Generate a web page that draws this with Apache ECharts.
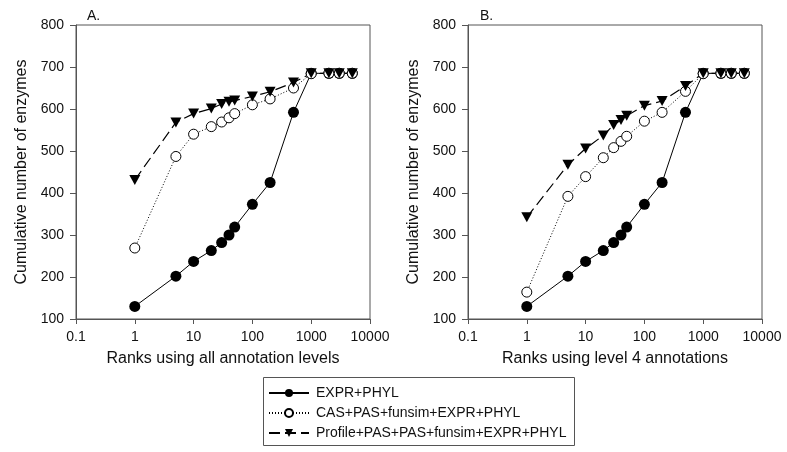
<!DOCTYPE html>
<html>
<head>
<meta charset="utf-8">
<script src="https://cdn.jsdelivr.net/npm/echarts@6/dist/echarts.min.js"></script>
<style>html,body{margin:0;padding:0;background:#fff;}#c{width:787px;height:452px;}</style>
</head>
<body>
<div id="c"></div>
<script>
const ranks = [1, 5, 10, 20, 30, 40, 50, 100, 200, 500, 1000, 2000, 3000, 5000];
const exprA = [130, 202, 237, 263, 282, 300, 319, 373, 425, 592, 685, 685, 685, 685];
const casA  = [269, 487, 540, 558, 569, 579, 589, 610, 624, 650, 684, 685, 685, 685];
const profA = [431, 568, 589, 601, 612, 617, 620, 630, 641, 663, 685, 685, 685, 685];
const exprB = [130, 202, 237, 263, 282, 300, 319, 373, 425, 592, 685, 685, 685, 685];
const casB  = [164, 392, 439, 484, 508, 523, 535, 571, 592, 642, 684, 685, 685, 685];
const profB = [342, 467, 506, 537, 562, 574, 584, 608, 619, 655, 685, 685, 685, 685];
const seriesNames = ['EXPR+PHYL', 'CAS+PAS+funsim+EXPR+PHYL', 'Profile+PAS+PAS+funsim+EXPR+PHYL'];
const panelTitles = ['A.', 'B.'];
const xNames = ['Ranks using all annotation levels', 'Ranks using level 4 annotations'];
const yName = 'Cumulative number of enzymes';

const FONT = '"Liberation Sans", Arial, sans-serif';
const AX = '#555';
const chart = echarts.init(document.getElementById('c'));
const pair = (xs, ys) => xs.map((x, i) => [x, ys[i]]);

function xAxis(i) {
  return {
    type: 'log', logBase: 10, min: 0.1, max: 10000, gridIndex: i,
    name: xNames[i], nameLocation: 'middle', nameGap: 32,
    nameTextStyle: { fontFamily: FONT, fontSize: 16, color: '#111' },
    axisLine: { lineStyle: { color: AX, width: 1 } },
    axisTick: { length: 5, lineStyle: { color: AX } },
    minorTick: { show: false },
    splitLine: { show: false },
    axisLabel: { fontFamily: FONT, fontSize: 14, color: '#111', margin: 11,
      formatter: v => String(Number(v.toPrecision(6))) }
  };
}
function yAxis(i) {
  return {
    type: 'value', min: 100, max: 800, interval: 100, gridIndex: i,
    name: yName, nameLocation: 'middle', nameGap: 46,
    nameTextStyle: { fontFamily: FONT, fontSize: 16, color: '#111' },
    axisLine: { show: true, lineStyle: { color: AX, width: 1 } },
    axisTick: { show: true, length: 6, lineStyle: { color: AX } },
    splitLine: { show: false },
    axisLabel: { fontFamily: FONT, fontSize: 14, color: '#111', margin: 12 }
  };
}
function mk(i, data) {
  return [
    { name: seriesNames[0], type: 'line', xAxisIndex: i, yAxisIndex: i, data: pair(ranks, data[0]),
      symbol: 'circle', symbolSize: 11, itemStyle: { color: '#000' },
      lineStyle: { color: '#000', width: 1 } },
    { name: seriesNames[1], type: 'line', xAxisIndex: i, yAxisIndex: i, data: pair(ranks, data[1]),
      symbol: 'circle', symbolSize: 10, itemStyle: { color: '#fff', borderColor: '#000', borderWidth: 1 },
      lineStyle: { color: '#000', width: 1, type: [1, 2] } },
    { name: seriesNames[2], type: 'line', xAxisIndex: i, yAxisIndex: i, data: pair(ranks, data[2]),
      symbol: 'triangle', symbolRotate: 180, symbolSize: [11, 10], itemStyle: { color: '#000' },
      lineStyle: { color: '#000', width: 1.2, type: [11, 5] } }
  ];
}

chart.setOption({
  animation: false,
  backgroundColor: '#fff',
  grid: [
    { left: 76, top: 25, width: 294, height: 294, show: true, borderColor: AX, borderWidth: 1, backgroundColor: 'transparent' },
    { left: 468, top: 25, width: 294, height: 294, show: true, borderColor: AX, borderWidth: 1, backgroundColor: 'transparent' }
  ],
  title: [
    { text: panelTitles[0], left: 82, top: 4, textStyle: { fontFamily: FONT, fontSize: 14, fontWeight: 'normal', color: '#111' } },
    { text: panelTitles[1], left: 475, top: 4, textStyle: { fontFamily: FONT, fontSize: 14, fontWeight: 'normal', color: '#111' } }
  ],
  xAxis: [xAxis(0), xAxis(1)],
  yAxis: [yAxis(0), yAxis(1)],
  legend: {
    orient: 'vertical', left: 268, top: 386, padding: 0, itemGap: 6,
    itemWidth: 40, itemHeight: 10,
    data: seriesNames,
    textStyle: { fontFamily: FONT, fontSize: 14, color: '#111', padding: [0, 0, 0, 2] }
  },
  graphic: [{
    type: 'rect', left: 261, top: 375, shape: { width: 311, height: 68 },
    style: { fill: 'none', stroke: AX, lineWidth: 1 }
  }],
  series: [...mk(0, [exprA, casA, profA]), ...mk(1, [exprB, casB, profB])]
});
</script>
</body>
</html>
